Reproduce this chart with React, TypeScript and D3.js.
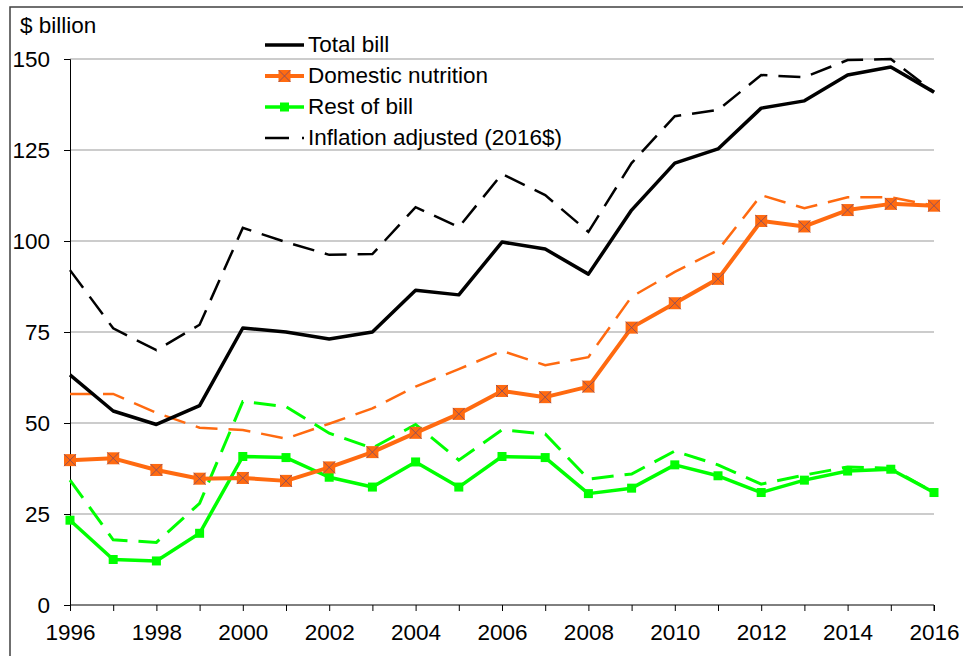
import { useEffect, useRef } from "react";
import * as d3 from "d3";

const years = d3.range(1996, 2017);

const totalBill = [63.2, 53.3, 49.6, 54.8, 76.1, 75.0, 73.1, 75.0, 86.5, 85.2, 99.7, 97.8, 90.9, 108.5, 121.4, 125.3, 136.5, 138.5, 145.6, 147.8, 140.9];
const totalReal = [92.0, 76.0, 70.0, 77.0, 103.6, 99.7, 96.2, 96.4, 109.3, 103.8, 118.4, 112.6, 102.5, 121.4, 134.3, 136.0, 145.6, 145.0, 149.7, 150.0, 140.9];
const domestic = [39.8, 40.3, 37.1, 34.7, 34.9, 34.1, 37.8, 42.0, 47.3, 52.5, 58.8, 57.1, 60.0, 76.2, 82.9, 89.6, 105.5, 104.0, 108.5, 110.2, 109.7];
const domesticReal = [58.0, 58.0, 52.8, 48.7, 48.1, 45.7, 49.8, 54.0, 60.0, 64.8, 69.8, 65.9, 68.1, 84.7, 91.5, 97.5, 112.6, 109.0, 112.0, 112.0, 109.7];
const restOfBill = [23.3, 12.5, 12.1, 19.7, 40.8, 40.5, 35.1, 32.4, 39.3, 32.4, 40.8, 40.5, 30.6, 32.1, 38.5, 35.5, 30.9, 34.3, 36.8, 37.3, 30.9];
const restReal = [34.3, 17.9, 17.2, 27.9, 55.9, 54.5, 47.2, 43.1, 49.6, 39.8, 48.1, 47.0, 34.6, 36.0, 42.3, 38.5, 33.2, 35.7, 37.9, 37.6, 30.9];

const yTicks = [0, 25, 50, 75, 100, 125, 150];
const xLabels = d3.range(1996, 2017, 2);

const legendItems = ["Total bill", "Domestic nutrition", "Rest of bill", "Inflation adjusted (2016$)"];

const ORANGE = "#ff6a10";
const GREEN = "#00ff00";
const FONT = "Arial, 'Liberation Sans', sans-serif";
const FS = 22.5;

export default function App() {
  const svgRef = useRef<SVGSVGElement>(null);

  useEffect(() => {
    if (!svgRef.current) return;
    document.body.style.margin = "0";

    const svg = d3.select(svgRef.current);
    const width = 963;
    const height = 656;
    svg.selectAll("*").remove();
    svg.attr("width", width).attr("height", height);

    const x = d3.scaleLinear().domain([1996, 2016]).range([70, 934]);
    const y = d3.scaleLinear().domain([0, 150]).range([605, 59]);

    // Outer frame (runs off the right and bottom edges)
    svg
      .append("rect")
      .attr("x", 10)
      .attr("y", 7)
      .attr("width", 980)
      .attr("height", 680)
      .attr("fill", "white")
      .attr("stroke", "#404040")
      .attr("stroke-width", 1.5);

    // Gridlines
    svg
      .append("g")
      .selectAll("line")
      .data(yTicks.filter((t) => t > 0))
      .join("line")
      .attr("x1", x(1996))
      .attr("x2", x(2016))
      .attr("y1", (d) => y(d))
      .attr("y2", (d) => y(d))
      .attr("stroke", "#999")
      .attr("stroke-width", 1);

    // Y axis
    const yAxis = svg
      .append("g")
      .attr("transform", `translate(${x(1996)},0)`)
      .call(d3.axisLeft(y).tickValues(yTicks).tickSize(6).tickPadding(14));
    yAxis.select(".domain").attr("stroke", "#000").attr("stroke-width", 1);
    yAxis.selectAll(".tick line").attr("stroke", "#000");
    yAxis
      .selectAll(".tick text")
      .attr("font-family", FONT)
      .attr("font-size", FS)
      .attr("fill", "#000");

    // X axis
    const xAxis = svg
      .append("g")
      .attr("transform", `translate(0,${y(0)})`)
      .call(
        d3
          .axisBottom(x)
          .tickValues(years)
          .tickSize(6)
          .tickPadding(13)
          .tickFormat((d) => (xLabels.includes(d as number) ? String(d) : ""))
      );
    xAxis.select(".domain").attr("stroke", "#000").attr("stroke-width", 1).attr("d", `M${x(1996)},0H${x(2016)}V6`);
    xAxis.selectAll(".tick line").attr("stroke", "#000");
    xAxis
      .selectAll(".tick text")
      .attr("font-family", FONT)
      .attr("font-size", FS)
      .attr("fill", "#000");

    svg
      .append("text")
      .attr("x", 20)
      .attr("y", 33)
      .attr("font-family", FONT)
      .attr("font-size", FS)
      .attr("fill", "#000")
      .text("$ billion");

    const line = d3
      .line<number>()
      .x((_, i) => x(years[i]))
      .y((d) => y(d));

    const dash = "22,11";

    // Dashed inflation-adjusted series
    svg.append("path").datum(domesticReal).attr("d", line).attr("fill", "none")
      .attr("stroke", ORANGE).attr("stroke-width", 2.5).attr("stroke-dasharray", dash);
    svg.append("path").datum(restReal).attr("d", line).attr("fill", "none")
      .attr("stroke", GREEN).attr("stroke-width", 3).attr("stroke-dasharray", dash);
    svg.append("path").datum(totalReal).attr("d", line).attr("fill", "none")
      .attr("stroke", "#000").attr("stroke-width", 2.5).attr("stroke-dasharray", dash);

    // Solid series
    svg.append("path").datum(restOfBill).attr("d", line).attr("fill", "none")
      .attr("stroke", GREEN).attr("stroke-width", 3.5).attr("stroke-linejoin", "round");
    svg.append("path").datum(domestic).attr("d", line).attr("fill", "none")
      .attr("stroke", ORANGE).attr("stroke-width", 4).attr("stroke-linejoin", "round");
    svg.append("path").datum(totalBill).attr("d", line).attr("fill", "none")
      .attr("stroke", "#000").attr("stroke-width", 3.5).attr("stroke-linejoin", "round");

    // Markers
    const greenMarker = (g: d3.Selection<SVGGElement, unknown, null, undefined>, cx: number, cy: number) => {
      g.append("rect").attr("x", cx - 4.5).attr("y", cy - 4.5).attr("width", 9).attr("height", 9).attr("fill", GREEN);
    };
    const orangeMarker = (g: d3.Selection<SVGGElement, unknown, null, undefined>, cx: number, cy: number) => {
      const s = 6;
      g.append("rect").attr("x", cx - s).attr("y", cy - s).attr("width", 2 * s).attr("height", 2 * s).attr("fill", ORANGE);
      g.append("path")
        .attr("d", `M${cx - s},${cy - s}L${cx + s},${cy + s}M${cx + s},${cy - s}L${cx - s},${cy + s}`)
        .attr("stroke", "#7a4a6a")
        .attr("stroke-width", 0.8);
    };

    const markers = svg.append("g");
    restOfBill.forEach((v, i) => greenMarker(markers, x(years[i]), y(v)));
    domestic.forEach((v, i) => orangeMarker(markers, x(years[i]), y(v)));

    // Legend
    const legend = svg.append("g");
    const lx0 = 265;
    const lx1 = 304;
    legendItems.forEach((label, i) => {
      const ly = 45 + i * 31;
      const item = legend.append("g");
      if (i === 0) {
        item.append("line").attr("x1", lx0).attr("x2", lx1).attr("y1", ly).attr("y2", ly)
          .attr("stroke", "#000").attr("stroke-width", 3.5);
      } else if (i === 1) {
        item.append("line").attr("x1", lx0).attr("x2", lx1).attr("y1", ly).attr("y2", ly)
          .attr("stroke", ORANGE).attr("stroke-width", 4);
        orangeMarker(item, (lx0 + lx1) / 2, ly);
      } else if (i === 2) {
        item.append("line").attr("x1", lx0).attr("x2", lx1).attr("y1", ly).attr("y2", ly)
          .attr("stroke", GREEN).attr("stroke-width", 3.5);
        greenMarker(item, (lx0 + lx1) / 2, ly);
      } else {
        item.append("line").attr("x1", lx0).attr("x2", lx1).attr("y1", ly).attr("y2", ly)
          .attr("stroke", "#000").attr("stroke-width", 2.5).attr("stroke-dasharray", "24,13");
      }
      item
        .append("text")
        .attr("x", lx1 + 4)
        .attr("y", ly + 7)
        .attr("font-family", FONT)
        .attr("font-size", FS)
        .attr("fill", "#000")
        .text(label);
    });
  }, []);

  return <svg ref={svgRef} style={{ display: "block" }}></svg>;
}
